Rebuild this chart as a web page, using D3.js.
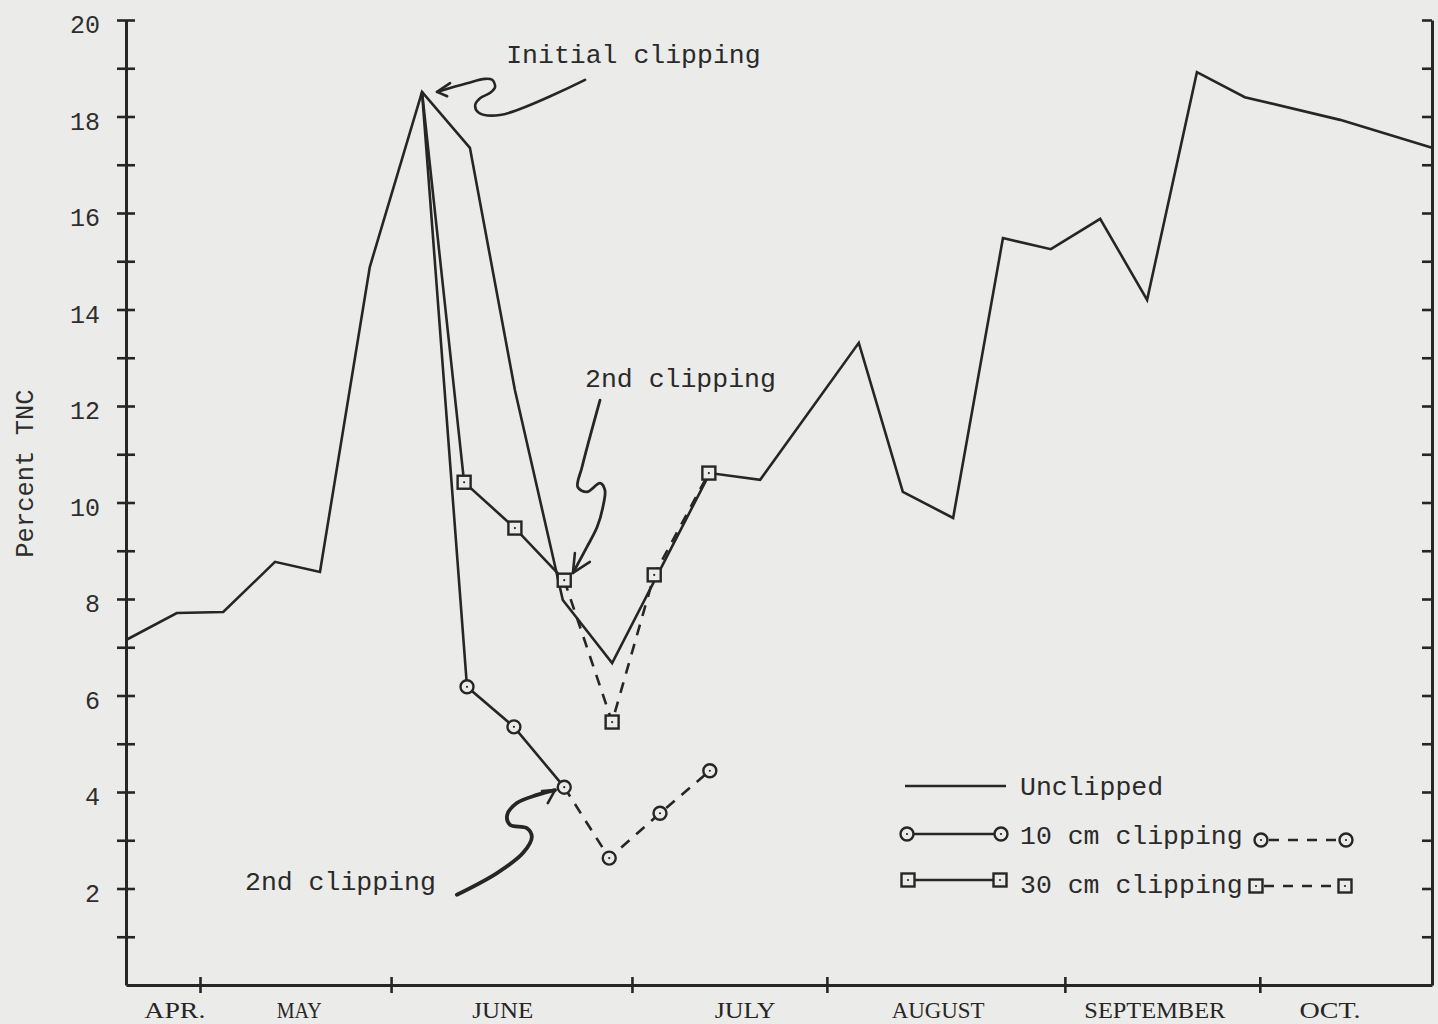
<!DOCTYPE html>
<html>
<head>
<meta charset="utf-8">
<script src="https://cdn.jsdelivr.net/npm/d3@7"></script>
<style>
  html, body { margin: 0; padding: 0; background: #ebebe9; }
  svg { display: block; }
</style>
</head>
<body>
<svg id="chart" width="1438" height="1024"></svg>
<script>
// ---------------- DATA (x in weeks from the start of the record, y in percent TNC) ----------------
const unclippedWeeks  = [0, 1.05, 2.01, 3.08, 4.01, 5.04, 6.12, 7.11, 8.04, 9.03, 10.05, 12.07, 13.11, 15.15, 16.06, 17.10, 18.13, 19.12, 20.14, 21.11, 22.14, 23.13, 25.10, 27.0];
const unclippedValues = [7.15, 7.71, 7.73, 8.77, 8.56, 14.88, 18.51, 17.35, 12.33, 7.98, 6.67, 10.61, 10.47, 13.31, 10.22, 9.68, 15.48, 15.25, 15.88, 14.20, 18.92, 18.40, 17.93, 17.35];

const clip10Weeks  = [6.12, 7.05, 8.02, 9.06, 9.99, 11.04, 12.07];
const clip10Values = [18.51, 6.18, 5.35, 4.10, 2.63, 3.56, 4.44];

const clip30Weeks  = [6.12, 6.99, 8.04, 9.06, 10.05, 10.92, 12.05];
const clip30Values = [18.51, 10.42, 9.47, 8.39, 5.45, 8.50, 10.61];

const secondClipIndex = 3; // solid line before, dashed after the 2nd clipping

const yTickValues   = [2, 4, 6, 8, 10, 12, 14, 16, 18, 20];
const monthTicks    = [1.53, 5.48, 10.46, 14.49, 19.41, 23.44];
const monthLabels   = ["APR.", "MAY", "JUNE", "JULY", "AUGUST", "SEPTEMBER", "OCT."];
const monthLabelPos = [1.01, 3.58, 7.79, 12.80, 16.79, 21.27, 24.89];

const legendLabels = ["Unclipped", "10 cm clipping", "30 cm clipping"];

// annotation arrows (week, value)
const annInitial = [[9.49,18.76],[7.73,18.03],[7.28,18.09],[7.22,18.24],[7.32,18.38],[7.53,18.49],[7.63,18.61],[7.57,18.76],[7.42,18.78],[7.05,18.69],[6.43,18.51]];
const annInitialHead = [[6.70,18.69],[6.43,18.51],[6.64,18.42]];
const ann2ndUpper = [[9.80,12.12],[9.43,10.74],[9.34,10.32],[9.53,10.22],[9.80,10.40],[9.90,10.26],[9.86,9.91],[9.74,9.49],[9.53,9.08],[9.24,8.54]];
const ann2ndUpperHead = [[9.28,8.95],[9.24,8.54],[9.59,8.77]];
const ann2ndLower = [[6.84,1.87],[7.67,2.32],[8.21,2.74],[8.39,3.07],[8.29,3.25],[7.94,3.32],[7.88,3.52],[8.08,3.77],[8.50,3.94],[8.87,4.04]];
const ann2ndLowerHead = [[8.60,4.02],[8.87,4.04],[8.72,3.77]];
const annTexts = [
  {text: "Initial clipping", w: 7.86, v: 19.11},
  {text: "2nd clipping", w: 9.49, v: 12.39},
  {text: "2nd clipping", w: 2.46, v: 1.97}
];

// ---------------- CHART ----------------
const ink = "#262626";
const paper = "#ebebe9";
const monoFont = "'Liberation Mono', 'DejaVu Sans Mono', monospace";
const svg = d3.select("#chart");

const x = d3.scaleLinear().domain([0, 27]).range([126, 1432]);
const y = d3.scaleLinear().domain([0, 20]).range([985, 20]);

const zip = (ws, vs) => ws.map((w, i) => ({w, v: vs[i]}));
const unclipped = zip(unclippedWeeks, unclippedValues);
const clip10 = zip(clip10Weeks, clip10Values);
const clip30 = zip(clip30Weeks, clip30Values);

const line = d3.line().x(d => x(d.w)).y(d => y(d.v));

// Left axis
const gl = svg.append("g").attr("transform", `translate(${x(0)},0)`)
  .call(d3.axisLeft(y).tickValues(d3.range(1, 21)).tickSize(9).tickSizeOuter(0).tickPadding(17)
    .tickFormat(d => yTickValues.includes(d) ? d : ""));
gl.select(".domain").attr("stroke", ink).attr("stroke-width", 3);
gl.selectAll(".tick line").attr("x1", 9).attr("stroke", ink).attr("stroke-width", 2.6);
gl.selectAll(".tick text").attr("font-family", monoFont).attr("font-size", 25)
  .attr("fill", "#2e2e2e").attr("dy", "0.5em");

// Right axis
const gr = svg.append("g").attr("transform", `translate(${x(27)},0)`)
  .call(d3.axisLeft(y).tickValues(d3.range(1, 21)).tickSize(10).tickSizeOuter(0).tickFormat(""));
gr.select(".domain").attr("stroke", ink).attr("stroke-width", 3);
gr.selectAll(".tick line").attr("stroke", ink).attr("stroke-width", 2.6);

// Bottom axis
const gb = svg.append("g").attr("transform", `translate(0,${y(0)})`)
  .call(d3.axisBottom(x).tickValues(monthTicks).tickSize(8).tickSizeOuter(0).tickFormat(""));
gb.select(".domain").attr("stroke", ink).attr("stroke-width", 3);
gb.selectAll(".tick line").attr("y1", -8).attr("stroke", ink).attr("stroke-width", 2.6);

svg.append("g").selectAll("text").data(monthLabels).join("text")
  .attr("x", (d, i) => x(monthLabelPos[i]))
  .attr("y", y(0) + 33)
  .attr("text-anchor", "middle")
  .attr("font-family", "'Liberation Serif', 'DejaVu Serif', serif")
  .attr("font-size", 23)
  .attr("textLength", d => d.length * 16 - 3)
  .attr("lengthAdjust", "spacingAndGlyphs")
  .attr("fill", "#262626")
  .text(d => d);

// Y label
svg.append("text")
  .attr("transform", `translate(33,${y(10.6)}) rotate(-90)`)
  .attr("text-anchor", "middle")
  .attr("font-family", monoFont).attr("font-size", 25.5).attr("fill", "#2e2e2e")
  .text("Percent TNC");

// Lines
const lineStyle = sel => sel.attr("fill", "none").attr("stroke", ink).attr("stroke-width", 2.6)
  .attr("stroke-linejoin", "miter");

svg.append("path").datum(unclipped).attr("d", line).call(lineStyle);
[clip10, clip30].forEach(series => {
  svg.append("path").datum(series.slice(0, secondClipIndex + 1)).attr("d", line).call(lineStyle);
  svg.append("path").datum(series.slice(secondClipIndex)).attr("d", line).call(lineStyle)
    .attr("stroke-dasharray", "11,9");
});

// Markers
function circleMarker(g, cx, cy) {
  g.append("circle").attr("cx", cx).attr("cy", cy).attr("r", 6.5)
    .attr("fill", paper).attr("stroke", ink).attr("stroke-width", 2.4);
  g.append("circle").attr("cx", cx).attr("cy", cy).attr("r", 1.1).attr("fill", ink);
}
function squareMarker(g, cx, cy) {
  g.append("rect").attr("x", cx - 6.5).attr("y", cy - 6.5).attr("width", 13).attr("height", 13)
    .attr("fill", paper).attr("stroke", ink).attr("stroke-width", 2.4);
  g.append("circle").attr("cx", cx).attr("cy", cy).attr("r", 1.1).attr("fill", ink);
}
const mk = svg.append("g");
clip10.slice(1).forEach(d => circleMarker(mk, x(d.w), y(d.v)));
clip30.slice(1).forEach(d => squareMarker(mk, x(d.w), y(d.v)));

// Annotations
const annLine = d3.line().x(d => x(d[0])).y(d => y(d[1])).curve(d3.curveCatmullRom.alpha(0.5));
const straight = d3.line().x(d => x(d[0])).y(d => y(d[1]));
[[annInitial, annInitialHead, 2.6], [ann2ndUpper, ann2ndUpperHead, 2.8], [ann2ndLower, ann2ndLowerHead, 3.8]]
  .forEach(([pts, head, sw]) => {
    svg.append("path").attr("d", annLine(pts)).attr("fill", "none").attr("stroke", ink)
      .attr("stroke-width", sw).attr("stroke-linecap", "round");
    svg.append("path").attr("d", straight(head)).attr("fill", "none").attr("stroke", ink)
      .attr("stroke-width", 2.6).attr("stroke-linecap", "round").attr("stroke-linejoin", "round");
  });
svg.append("g").selectAll("text").data(annTexts).join("text")
  .attr("x", d => x(d.w)).attr("y", d => y(d.v))
  .attr("font-family", monoFont).attr("font-size", 26.5).attr("fill", "#2a2a2a")
  .text(d => d.text);

// Legend
const lg = svg.append("g");
const lgText = 1020, rows = [786, 835, 884];
lg.append("line").attr("x1", 905).attr("x2", 1006).attr("y1", rows[0]).attr("y2", rows[0])
  .attr("stroke", ink).attr("stroke-width", 2.6);
lg.selectAll("text").data(legendLabels).join("text")
  .attr("x", lgText).attr("y", (d, i) => rows[i] + 9)
  .attr("font-family", monoFont).attr("font-size", 26.5).attr("fill", "#2a2a2a")
  .text(d => d);
// solid samples
lg.append("line").attr("x1", 906).attr("x2", 1001).attr("y1", rows[1] - 1).attr("y2", rows[1] - 1)
  .attr("stroke", ink).attr("stroke-width", 2.4);
circleMarker(lg, 907, rows[1] - 1); circleMarker(lg, 1001, rows[1] - 1);
lg.append("line").attr("x1", 907).attr("x2", 1000).attr("y1", rows[2] - 4).attr("y2", rows[2] - 4)
  .attr("stroke", ink).attr("stroke-width", 2.4);
squareMarker(lg, 908, rows[2] - 4); squareMarker(lg, 1000, rows[2] - 4);
// dashed samples
lg.append("line").attr("x1", 1261).attr("x2", 1346).attr("y1", rows[1] + 5).attr("y2", rows[1] + 5)
  .attr("stroke", ink).attr("stroke-width", 2.4).attr("stroke-dasharray", "10,9").attr("stroke-dashoffset", -8);
circleMarker(lg, 1261, rows[1] + 5); circleMarker(lg, 1346, rows[1] + 5);
lg.append("line").attr("x1", 1256).attr("x2", 1345).attr("y1", rows[2] + 2).attr("y2", rows[2] + 2)
  .attr("stroke", ink).attr("stroke-width", 2.4).attr("stroke-dasharray", "10,9").attr("stroke-dashoffset", -8);
squareMarker(lg, 1256, rows[2] + 2); squareMarker(lg, 1345, rows[2] + 2);
</script>
</body>
</html>
